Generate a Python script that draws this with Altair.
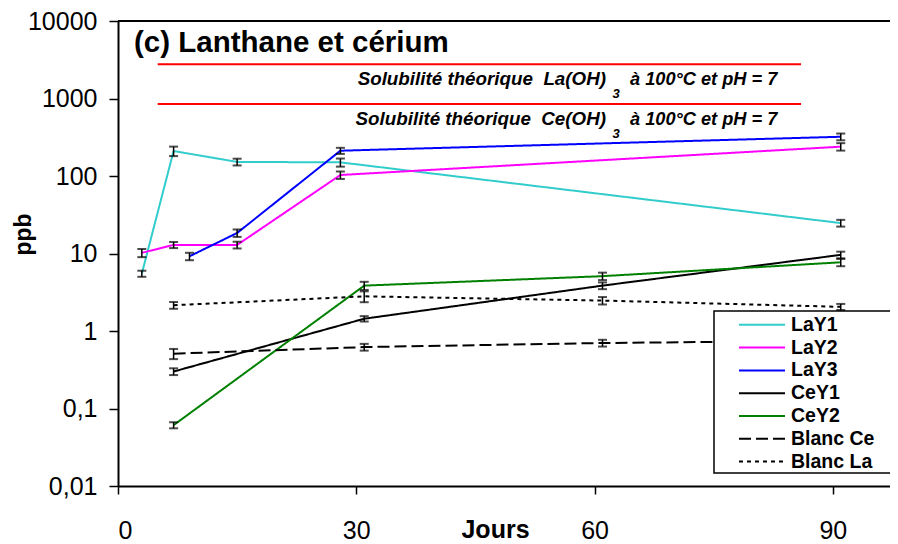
import altair as alt
import pandas as pd

FONT = "Liberation Sans"

# ---- data ---------------------------------------------------------------
series_names = ["LaY1", "LaY2", "LaY3", "CeY1", "CeY2", "Blanc Ce", "Blanc La"]
series_colors = ["#33CCCC", "#FF00FF", "#0000FF", "#000000", "#008000", "#000000", "#000000"]
series_dash = [[1, 0], [1, 0], [1, 0], [1, 0], [1, 0], [12, 5], [4, 4]]
series_width = [2, 2, 2, 2, 2, 3, 3]

lay1_days = [3, 7, 15, 28, 91]
lay1_ppb = [5.5, 210, 152, 150, 24.7]
lay1_err = [0.09, 0.14, 0.10, 0.12, 0.10]

lay2_days = [3, 7, 15, 28, 91]
lay2_ppb = [10.2, 12.9, 12.9, 103, 239]
lay2_err = [0.12, 0.09, 0.10, 0.11, 0.11]

lay3_days = [9, 15, 28, 91]
lay3_ppb = [9.2, 18.4, 212, 321]
lay3_err = [0.11, 0.11, 0.09, 0.10]

cey1_days = [7, 31, 61, 91]
cey1_ppb = [0.30, 1.44, 3.85, 9.6]
cey1_err = [0.10, 0.08, 0.10, 0.10]

cey2_days = [7, 31, 61, 91]
cey2_ppb = [0.061, 3.85, 5.1, 7.7]
cey2_err = [0.09, 0.12, 0.11, 0.11]

blce_days = [7, 31, 61, 91]
blce_ppb = [0.51, 0.62, 0.70, 0.75]
blce_err = [0.15, 0.10, 0.10, 0.10]

blla_days = [7, 31, 61, 91]
blla_ppb = [2.15, 2.8, 2.47, 2.05]
blla_err = [0.10, 0.16, 0.11, 0.09]

sol_ppb = [2770, 850]
sol_start = [5, 5]
sol_end = [86, 86]
sol_left = ["Solubilité théorique\u00a0 La(OH)", "Solubilité théorique\u00a0 Ce(OH)"]
sol_sub = ["3", "3"]
sol_right = ["à 100°C et pH = 7", "à 100°C et pH = 7"]

x_ticks = [0, 30, 60, 90]
y_ticks = [0.01, 0.1, 1, 10, 100, 1000, 10000]

# ---- table ---------------------------------------------------------------
rows = []
for name, d, v, e in [
    ("LaY1", lay1_days, lay1_ppb, lay1_err),
    ("LaY2", lay2_days, lay2_ppb, lay2_err),
    ("LaY3", lay3_days, lay3_ppb, lay3_err),
    ("CeY1", cey1_days, cey1_ppb, cey1_err),
    ("CeY2", cey2_days, cey2_ppb, cey2_err),
    ("Blanc Ce", blce_days, blce_ppb, blce_err),
    ("Blanc La", blla_days, blla_ppb, blla_err),
]:
    for di, vi, ei in zip(d, v, e):
        rows.append(dict(series=name, day=di, ppb=vi, lo=vi * (1 - ei), hi=vi * (1 + ei)))
df = pd.DataFrame(rows)

W, H = 772, 465
xscale = alt.Scale(domain=[0, 97.2], nice=False, zero=False)
yscale = alt.Scale(type="log", domain=[0.01, 10000], nice=False)

x_axis = alt.Axis(
    values=x_ticks, title="Jours", grid=False, tickSize=8, labelPadding=24,
    labelFontSize=25, titleFontSize=25, titleFontWeight="bold",
    titleX=377, titleY=51, titleAlign="center", titleBaseline="alphabetic",
)
y_axis = alt.Axis(
    values=y_ticks, title="ppb", grid=False, tickSize=9, labelPadding=12,
    labelFontSize=25, titleFontSize=23, titleFontWeight="bold",
    labelExpr="datum.value >= 1 ? format(datum.value, 'd') : replace(format(datum.value, '.2~f'), '.', ',')",
    titleAngle=270, titleX=-95, titleY=213, titleAlign="center", titleBaseline="middle",
)

leg = alt.Legend(
    title=None, orient="none", legendX=600, legendY=290, padding=4,
    symbolType="stroke", symbolSize=2116, symbolOffset=16,
    labelFont=FONT, labelFontSize=19.5, labelFontWeight="bold", labelColor="black",
    labelOffset=5, rowPadding=1.8, clipHeight=19.6,
)

base = alt.Chart(df)

lines = base.mark_line().encode(
    x=alt.X("day:Q", scale=xscale, axis=x_axis),
    y=alt.Y("ppb:Q", scale=yscale, axis=y_axis),
    color=alt.Color("series:N", scale=alt.Scale(domain=series_names, range=series_colors), legend=leg),
    strokeDash=alt.StrokeDash("series:N", scale=alt.Scale(domain=series_names, range=series_dash), legend=leg),
    strokeWidth=alt.StrokeWidth("series:N", scale=alt.Scale(domain=series_names, range=series_width), legend=leg),
    order="day:Q",
)

err = base.mark_rule(color="black", strokeWidth=1.5).encode(
    x="day:Q", y="lo:Q", y2="hi:Q"
)
cap_lo = base.mark_tick(color="black", orient="horizontal", size=9, thickness=2).encode(
    x="day:Q", y="lo:Q"
)
cap_hi = base.mark_tick(color="black", orient="horizontal", size=9, thickness=2).encode(
    x="day:Q", y="hi:Q"
)

sol_df = pd.DataFrame({"ppb": sol_ppb, "start": sol_start, "end": sol_end,
                       "left": sol_left, "sub": sol_sub, "right": sol_right})
red = alt.Chart(sol_df).mark_rule(color="#FF0000", strokeWidth=2).encode(
    x="start:Q", x2="end:Q", y="ppb:Q"
)

top_line = alt.Chart(pd.DataFrame({"ppb": [10000]})).mark_rule(color="black", strokeWidth=2).encode(
    y="ppb:Q", x=alt.value(0), x2=alt.value(W)
)

txt_style = dict(font=FONT, fontWeight="bold", fontStyle="italic", color="black", baseline="alphabetic")
sol_l = alt.Chart(sol_df).mark_text(align="right", fontSize=18.8, dy=21, **txt_style).encode(
    x=alt.value(488), y="ppb:Q", text="left:N"
)
sol_s = alt.Chart(sol_df).mark_text(align="center", fontSize=13, dy=34, **txt_style).encode(
    x=alt.value(498), y="ppb:Q", text="sub:N"
)
sol_r = alt.Chart(sol_df).mark_text(align="left", fontSize=18.2, dy=21, **txt_style).encode(
    x=alt.value(512), y="ppb:Q", text="right:N"
)

title = alt.Chart(pd.DataFrame({"t": ["(c) Lanthane et cérium"]})).mark_text(
    align="left", baseline="alphabetic", font=FONT, fontSize=29.5, fontWeight="bold", color="black"
).encode(x=alt.value(16), y=alt.value(31), text="t:N")

box = alt.Chart(pd.DataFrame({"a": [0]})).mark_rect(fill="white", stroke="black", strokeWidth=1.5).encode(
    x=alt.value(596), x2=alt.value(830), y=alt.value(290), y2=alt.value(452)
)

chart = alt.layer(
    lines, top_line, red, err, cap_lo, cap_hi, box, sol_l, sol_s, sol_r, title
).properties(
    width=W, height=H,
    autosize=alt.AutoSizeParams(type="none"),
    padding={"left": 110, "top": 13, "right": 0, "bottom": 58},
    background="white",
).configure_view(stroke=None).configure_axis(
    labelFont=FONT, titleFont=FONT, labelColor="black", titleColor="black",
    domainColor="black", tickColor="black", domainWidth=2, tickWidth=1.5,
)

chart.save("out.html", embed_options={"renderer": "svg", "actions": False})
